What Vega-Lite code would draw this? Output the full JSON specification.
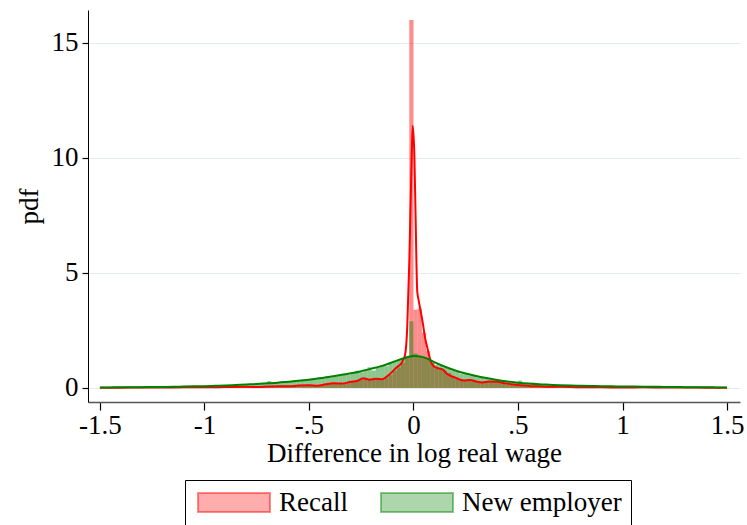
{
  "$schema": "https://vega.github.io/schema/vega-lite/v6.json",
  "width": 652,
  "height": 392,
  "autosize": "none",
  "padding": {"left": 88, "top": 10, "right": 7, "bottom": 123},
  "background": "white",
  "datasets": {
    "hist": [
      {"b":-1.50,"e":-1.48,"Recall":0.01,"New employer":0.02},{"b":-1.48,"e":-1.46,"Recall":0.01,"New employer":0.03},{"b":-1.46,"e":-1.44,"Recall":0.01,"New employer":0.02},{"b":-1.44,"e":-1.42,"Recall":0.02,"New employer":0.03},{"b":-1.42,"e":-1.40,"Recall":0.01,"New employer":0.03},
      {"b":-1.40,"e":-1.38,"Recall":0.01,"New employer":0.02},{"b":-1.38,"e":-1.36,"Recall":0.01,"New employer":0.04},{"b":-1.36,"e":-1.34,"Recall":0.02,"New employer":0.03},{"b":-1.34,"e":-1.32,"Recall":0.01,"New employer":0.03},{"b":-1.32,"e":-1.30,"Recall":0.02,"New employer":0.04},
      {"b":-1.30,"e":-1.28,"Recall":0.02,"New employer":0.03},{"b":-1.28,"e":-1.26,"Recall":0.01,"New employer":0.04},{"b":-1.26,"e":-1.24,"Recall":0.02,"New employer":0.05},{"b":-1.24,"e":-1.22,"Recall":0.02,"New employer":0.04},{"b":-1.22,"e":-1.20,"Recall":0.03,"New employer":0.05},
      {"b":-1.20,"e":-1.18,"Recall":0.02,"New employer":0.04},{"b":-1.18,"e":-1.16,"Recall":0.02,"New employer":0.06},{"b":-1.16,"e":-1.14,"Recall":0.03,"New employer":0.05},{"b":-1.14,"e":-1.12,"Recall":0.02,"New employer":0.06},{"b":-1.12,"e":-1.10,"Recall":0.03,"New employer":0.05},
      {"b":-1.10,"e":-1.08,"Recall":0.03,"New employer":0.07},{"b":-1.08,"e":-1.06,"Recall":0.02,"New employer":0.06},{"b":-1.06,"e":-1.04,"Recall":0.04,"New employer":0.08},{"b":-1.04,"e":-1.02,"Recall":0.03,"New employer":0.07},{"b":-1.02,"e":-1.00,"Recall":0.03,"New employer":0.08},
      {"b":-1.00,"e":-0.98,"Recall":0.04,"New employer":0.09},{"b":-0.98,"e":-0.96,"Recall":0.03,"New employer":0.08},{"b":-0.96,"e":-0.94,"Recall":0.04,"New employer":0.10},{"b":-0.94,"e":-0.92,"Recall":0.03,"New employer":0.09},{"b":-0.92,"e":-0.90,"Recall":0.05,"New employer":0.11},
      {"b":-0.90,"e":-0.88,"Recall":0.04,"New employer":0.12},{"b":-0.88,"e":-0.86,"Recall":0.04,"New employer":0.11},{"b":-0.86,"e":-0.84,"Recall":0.05,"New employer":0.14},{"b":-0.84,"e":-0.82,"Recall":0.04,"New employer":0.13},{"b":-0.82,"e":-0.80,"Recall":0.06,"New employer":0.15},
      {"b":-0.80,"e":-0.78,"Recall":0.05,"New employer":0.16},{"b":-0.78,"e":-0.76,"Recall":0.04,"New employer":0.15},{"b":-0.76,"e":-0.74,"Recall":0.06,"New employer":0.19},{"b":-0.74,"e":-0.72,"Recall":0.05,"New employer":0.17},{"b":-0.72,"e":-0.70,"Recall":0.07,"New employer":0.22},
      {"b":-0.70,"e":-0.68,"Recall":0.06,"New employer":0.30},{"b":-0.68,"e":-0.66,"Recall":0.08,"New employer":0.21},{"b":-0.66,"e":-0.64,"Recall":0.07,"New employer":0.25},{"b":-0.64,"e":-0.62,"Recall":0.09,"New employer":0.24},{"b":-0.62,"e":-0.60,"Recall":0.08,"New employer":0.28},
      {"b":-0.60,"e":-0.58,"Recall":0.07,"New employer":0.26},{"b":-0.58,"e":-0.56,"Recall":0.10,"New employer":0.32},{"b":-0.56,"e":-0.54,"Recall":0.09,"New employer":0.30},{"b":-0.54,"e":-0.52,"Recall":0.12,"New employer":0.36},{"b":-0.52,"e":-0.50,"Recall":0.11,"New employer":0.33},
      {"b":-0.50,"e":-0.48,"Recall":0.12,"New employer":0.40},{"b":-0.48,"e":-0.46,"Recall":0.10,"New employer":0.38},{"b":-0.46,"e":-0.44,"Recall":0.11,"New employer":0.45},{"b":-0.44,"e":-0.42,"Recall":0.14,"New employer":0.42},{"b":-0.42,"e":-0.40,"Recall":0.17,"New employer":0.50},
      {"b":-0.40,"e":-0.38,"Recall":0.20,"New employer":0.47},{"b":-0.38,"e":-0.36,"Recall":0.19,"New employer":0.55},{"b":-0.36,"e":-0.34,"Recall":0.18,"New employer":0.52},{"b":-0.34,"e":-0.32,"Recall":0.22,"New employer":0.62},{"b":-0.32,"e":-0.30,"Recall":0.25,"New employer":0.58},
      {"b":-0.30,"e":-0.28,"Recall":0.27,"New employer":0.66},{"b":-0.28,"e":-0.26,"Recall":0.31,"New employer":0.75},{"b":-0.26,"e":-0.24,"Recall":0.40,"New employer":0.68},{"b":-0.24,"e":-0.22,"Recall":0.42,"New employer":0.80},{"b":-0.22,"e":-0.20,"Recall":0.36,"New employer":0.90},
      {"b":-0.20,"e":-0.18,"Recall":0.40,"New employer":0.76},{"b":-0.18,"e":-0.16,"Recall":0.41,"New employer":0.88},{"b":-0.16,"e":-0.14,"Recall":0.36,"New employer":1.00},{"b":-0.14,"e":-0.12,"Recall":0.45,"New employer":0.95},{"b":-0.12,"e":-0.10,"Recall":0.58,"New employer":1.05},
      {"b":-0.10,"e":-0.08,"Recall":0.75,"New employer":1.15},{"b":-0.08,"e":-0.06,"Recall":0.90,"New employer":1.20},{"b":-0.06,"e":-0.04,"Recall":1.10,"New employer":1.25},{"b":-0.04,"e":-0.02,"Recall":1.40,"New employer":1.30},{"b":-0.02,"e":0.00,"Recall":16.0,"New employer":2.90},
      {"b":0.00,"e":0.02,"Recall":3.40,"New employer":1.50},{"b":0.02,"e":0.04,"Recall":3.45,"New employer":1.40},{"b":0.04,"e":0.06,"Recall":2.40,"New employer":1.30},{"b":0.06,"e":0.08,"Recall":1.60,"New employer":1.25},{"b":0.08,"e":0.10,"Recall":1.10,"New employer":1.10},
      {"b":0.10,"e":0.12,"Recall":0.90,"New employer":1.00},{"b":0.12,"e":0.14,"Recall":0.85,"New employer":0.95},{"b":0.14,"e":0.16,"Recall":0.75,"New employer":0.88},{"b":0.16,"e":0.18,"Recall":0.65,"New employer":0.82},{"b":0.18,"e":0.20,"Recall":0.52,"New employer":0.76},
      {"b":0.20,"e":0.22,"Recall":0.45,"New employer":0.72},{"b":0.22,"e":0.24,"Recall":0.38,"New employer":0.62},{"b":0.24,"e":0.26,"Recall":0.35,"New employer":0.60},{"b":0.26,"e":0.28,"Recall":0.34,"New employer":0.55},{"b":0.28,"e":0.30,"Recall":0.33,"New employer":0.52},
      {"b":0.30,"e":0.32,"Recall":0.27,"New employer":0.46},{"b":0.32,"e":0.34,"Recall":0.25,"New employer":0.44},{"b":0.34,"e":0.36,"Recall":0.28,"New employer":0.40},{"b":0.36,"e":0.38,"Recall":0.26,"New employer":0.38},{"b":0.38,"e":0.40,"Recall":0.27,"New employer":0.36},
      {"b":0.40,"e":0.42,"Recall":0.24,"New employer":0.33},{"b":0.42,"e":0.44,"Recall":0.22,"New employer":0.28},{"b":0.44,"e":0.46,"Recall":0.18,"New employer":0.28},{"b":0.46,"e":0.48,"Recall":0.16,"New employer":0.24},{"b":0.48,"e":0.50,"Recall":0.14,"New employer":0.22},
      {"b":0.50,"e":0.52,"Recall":0.12,"New employer":0.32},{"b":0.52,"e":0.54,"Recall":0.11,"New employer":0.20},{"b":0.54,"e":0.56,"Recall":0.09,"New employer":0.20},{"b":0.56,"e":0.58,"Recall":0.08,"New employer":0.18},{"b":0.58,"e":0.60,"Recall":0.08,"New employer":0.17},
      {"b":0.60,"e":0.62,"Recall":0.06,"New employer":0.16},{"b":0.62,"e":0.64,"Recall":0.07,"New employer":0.15},{"b":0.64,"e":0.66,"Recall":0.05,"New employer":0.14},{"b":0.66,"e":0.68,"Recall":0.06,"New employer":0.13},{"b":0.68,"e":0.70,"Recall":0.05,"New employer":0.13},
      {"b":0.70,"e":0.72,"Recall":0.08,"New employer":0.12},{"b":0.72,"e":0.74,"Recall":0.04,"New employer":0.11},{"b":0.74,"e":0.76,"Recall":0.05,"New employer":0.11},{"b":0.76,"e":0.78,"Recall":0.04,"New employer":0.10},{"b":0.78,"e":0.80,"Recall":0.03,"New employer":0.10},
      {"b":0.80,"e":0.82,"Recall":0.04,"New employer":0.09},{"b":0.82,"e":0.84,"Recall":0.03,"New employer":0.09},{"b":0.84,"e":0.86,"Recall":0.04,"New employer":0.08},{"b":0.86,"e":0.88,"Recall":0.03,"New employer":0.08},{"b":0.88,"e":0.90,"Recall":0.03,"New employer":0.07},
      {"b":0.90,"e":0.92,"Recall":0.02,"New employer":0.08},{"b":0.92,"e":0.94,"Recall":0.03,"New employer":0.07},{"b":0.94,"e":0.96,"Recall":0.02,"New employer":0.06},{"b":0.96,"e":0.98,"Recall":0.03,"New employer":0.07},{"b":0.98,"e":1.00,"Recall":0.02,"New employer":0.06},
      {"b":1.00,"e":1.02,"Recall":0.03,"New employer":0.06},{"b":1.02,"e":1.04,"Recall":0.02,"New employer":0.05},{"b":1.04,"e":1.06,"Recall":0.03,"New employer":0.06},{"b":1.06,"e":1.08,"Recall":0.02,"New employer":0.05},{"b":1.08,"e":1.10,"Recall":0.02,"New employer":0.05},
      {"b":1.10,"e":1.12,"Recall":0.03,"New employer":0.04},{"b":1.12,"e":1.14,"Recall":0.02,"New employer":0.05},{"b":1.14,"e":1.16,"Recall":0.02,"New employer":0.04},{"b":1.16,"e":1.18,"Recall":0.02,"New employer":0.04},{"b":1.18,"e":1.20,"Recall":0.01,"New employer":0.05},
      {"b":1.20,"e":1.22,"Recall":0.02,"New employer":0.04},{"b":1.22,"e":1.24,"Recall":0.02,"New employer":0.04},{"b":1.24,"e":1.26,"Recall":0.01,"New employer":0.03},{"b":1.26,"e":1.28,"Recall":0.02,"New employer":0.04},{"b":1.28,"e":1.30,"Recall":0.01,"New employer":0.03},
      {"b":1.30,"e":1.32,"Recall":0.02,"New employer":0.04},{"b":1.32,"e":1.34,"Recall":0.01,"New employer":0.03},{"b":1.34,"e":1.36,"Recall":0.02,"New employer":0.03},{"b":1.36,"e":1.38,"Recall":0.01,"New employer":0.03},{"b":1.38,"e":1.40,"Recall":0.01,"New employer":0.02},
      {"b":1.40,"e":1.42,"Recall":0.01,"New employer":0.03},{"b":1.42,"e":1.44,"Recall":0.01,"New employer":0.02},{"b":1.44,"e":1.46,"Recall":0.01,"New employer":0.03},{"b":1.46,"e":1.48,"Recall":0.01,"New employer":0.02},{"b":1.48,"e":1.50,"Recall":0.01,"New employer":0.02}
    ],
    "dens": [
      {"s":"Recall","x":-1.50,"y":0.01},{"s":"Recall","x":-1.40,"y":0.01},{"s":"Recall","x":-1.30,"y":0.02},{"s":"Recall","x":-1.20,"y":0.02},{"s":"Recall","x":-1.10,"y":0.03},
      {"s":"Recall","x":-1.00,"y":0.03},{"s":"Recall","x":-0.90,"y":0.04},{"s":"Recall","x":-0.80,"y":0.05},{"s":"Recall","x":-0.75,"y":0.04},{"s":"Recall","x":-0.70,"y":0.06},
      {"s":"Recall","x":-0.65,"y":0.08},{"s":"Recall","x":-0.60,"y":0.07},{"s":"Recall","x":-0.55,"y":0.11},{"s":"Recall","x":-0.50,"y":0.12},{"s":"Recall","x":-0.46,"y":0.10},
      {"s":"Recall","x":-0.42,"y":0.16},{"s":"Recall","x":-0.38,"y":0.20},{"s":"Recall","x":-0.34,"y":0.19},{"s":"Recall","x":-0.30,"y":0.27},{"s":"Recall","x":-0.27,"y":0.30},
      {"s":"Recall","x":-0.24,"y":0.42},{"s":"Recall","x":-0.21,"y":0.36},{"s":"Recall","x":-0.18,"y":0.40},{"s":"Recall","x":-0.15,"y":0.38},{"s":"Recall","x":-0.12,"y":0.55},
      {"s":"Recall","x":-0.10,"y":0.72},{"s":"Recall","x":-0.08,"y":0.90},{"s":"Recall","x":-0.06,"y":1.05},{"s":"Recall","x":-0.05,"y":1.20},{"s":"Recall","x":-0.04,"y":1.45},
      {"s":"Recall","x":-0.03,"y":2.6},{"s":"Recall","x":-0.02,"y":5.5},{"s":"Recall","x":-0.01,"y":9.5},{"s":"Recall","x":-0.004,"y":11.4},{"s":"Recall","x":0.004,"y":10.2},
      {"s":"Recall","x":0.01,"y":7.5},{"s":"Recall","x":0.018,"y":4.2},{"s":"Recall","x":0.025,"y":3.8},{"s":"Recall","x":0.035,"y":3.3},{"s":"Recall","x":0.045,"y":2.8},
      {"s":"Recall","x":0.055,"y":2.2},{"s":"Recall","x":0.065,"y":1.8},{"s":"Recall","x":0.075,"y":1.4},{"s":"Recall","x":0.085,"y":1.1},{"s":"Recall","x":0.10,"y":0.92},
      {"s":"Recall","x":0.12,"y":0.85},{"s":"Recall","x":0.14,"y":0.80},{"s":"Recall","x":0.16,"y":0.62},{"s":"Recall","x":0.18,"y":0.52},{"s":"Recall","x":0.20,"y":0.45},
      {"s":"Recall","x":0.22,"y":0.37},{"s":"Recall","x":0.24,"y":0.33},{"s":"Recall","x":0.27,"y":0.35},{"s":"Recall","x":0.30,"y":0.28},{"s":"Recall","x":0.33,"y":0.24},
      {"s":"Recall","x":0.36,"y":0.28},{"s":"Recall","x":0.40,"y":0.27},{"s":"Recall","x":0.44,"y":0.20},{"s":"Recall","x":0.48,"y":0.15},{"s":"Recall","x":0.52,"y":0.12},
      {"s":"Recall","x":0.56,"y":0.08},{"s":"Recall","x":0.60,"y":0.07},{"s":"Recall","x":0.65,"y":0.05},{"s":"Recall","x":0.70,"y":0.06},{"s":"Recall","x":0.75,"y":0.04},
      {"s":"Recall","x":0.80,"y":0.03},{"s":"Recall","x":0.90,"y":0.03},{"s":"Recall","x":1.00,"y":0.02},{"s":"Recall","x":1.10,"y":0.03},{"s":"Recall","x":1.20,"y":0.02},
      {"s":"Recall","x":1.30,"y":0.02},{"s":"Recall","x":1.40,"y":0.01},{"s":"Recall","x":1.50,"y":0.01},
      {"s":"New employer","x":-1.50,"y":0.02},{"s":"New employer","x":-1.45,"y":0.025},{"s":"New employer","x":-1.40,"y":0.03},{"s":"New employer","x":-1.35,"y":0.03},{"s":"New employer","x":-1.30,"y":0.035},
      {"s":"New employer","x":-1.25,"y":0.04},{"s":"New employer","x":-1.20,"y":0.045},{"s":"New employer","x":-1.15,"y":0.05},{"s":"New employer","x":-1.10,"y":0.06},{"s":"New employer","x":-1.05,"y":0.07},
      {"s":"New employer","x":-1.00,"y":0.08},{"s":"New employer","x":-0.95,"y":0.095},{"s":"New employer","x":-0.90,"y":0.11},{"s":"New employer","x":-0.85,"y":0.13},{"s":"New employer","x":-0.80,"y":0.15},
      {"s":"New employer","x":-0.75,"y":0.17},{"s":"New employer","x":-0.70,"y":0.20},{"s":"New employer","x":-0.65,"y":0.23},{"s":"New employer","x":-0.60,"y":0.27},{"s":"New employer","x":-0.55,"y":0.31},
      {"s":"New employer","x":-0.50,"y":0.36},{"s":"New employer","x":-0.45,"y":0.42},{"s":"New employer","x":-0.40,"y":0.49},{"s":"New employer","x":-0.35,"y":0.56},{"s":"New employer","x":-0.30,"y":0.64},
      {"s":"New employer","x":-0.25,"y":0.73},{"s":"New employer","x":-0.20,"y":0.84},{"s":"New employer","x":-0.15,"y":0.96},{"s":"New employer","x":-0.10,"y":1.12},{"s":"New employer","x":-0.05,"y":1.28},
      {"s":"New employer","x":0.00,"y":1.39},{"s":"New employer","x":0.05,"y":1.33},{"s":"New employer","x":0.10,"y":1.12},{"s":"New employer","x":0.15,"y":0.92},{"s":"New employer","x":0.20,"y":0.76},
      {"s":"New employer","x":0.25,"y":0.63},{"s":"New employer","x":0.30,"y":0.52},{"s":"New employer","x":0.35,"y":0.43},{"s":"New employer","x":0.40,"y":0.35},{"s":"New employer","x":0.45,"y":0.28},
      {"s":"New employer","x":0.50,"y":0.23},{"s":"New employer","x":0.55,"y":0.19},{"s":"New employer","x":0.60,"y":0.16},{"s":"New employer","x":0.65,"y":0.14},{"s":"New employer","x":0.70,"y":0.12},
      {"s":"New employer","x":0.75,"y":0.105},{"s":"New employer","x":0.80,"y":0.095},{"s":"New employer","x":0.85,"y":0.085},{"s":"New employer","x":0.90,"y":0.075},{"s":"New employer","x":0.95,"y":0.07},
      {"s":"New employer","x":1.00,"y":0.065},{"s":"New employer","x":1.05,"y":0.06},{"s":"New employer","x":1.10,"y":0.055},{"s":"New employer","x":1.15,"y":0.05},{"s":"New employer","x":1.20,"y":0.045},
      {"s":"New employer","x":1.25,"y":0.04},{"s":"New employer","x":1.30,"y":0.035},{"s":"New employer","x":1.35,"y":0.03},{"s":"New employer","x":1.40,"y":0.03},{"s":"New employer","x":1.45,"y":0.025},
      {"s":"New employer","x":1.50,"y":0.02}
    ]
  },
  "layer": [
    {
      "data": {"name": "hist"},
      "transform": [{"fold": ["Recall", "New employer"], "as": ["s", "d"]}],
      "mark": {"type": "bar", "fillOpacity": 0.45, "strokeWidth": 0},
      "encoding": {
        "x": {"field": "b", "type": "quantitative",
              "scale": {"domain": [-1.557, 1.562], "nice": false, "zero": false},
              "axis": {"values": [-1.5, -1, -0.5, 0, 0.5, 1, 1.5],
                       "labelExpr": "datum.value == 0 ? '0' : replace(toString(datum.value), '0.', '.')",
                       "title": "Difference in log real wage", "grid": false,
                       "domainColor": "#555555", "domainWidth": 1.5,
                       "tickColor": "#000000", "tickSize": 8, "tickWidth": 1.2,
                       "labelPadding": 2, "titlePadding": 2}},
        "x2": {"field": "e"},
        "y": {"field": "d", "type": "quantitative", "stack": null,
              "scale": {"domain": [-0.61, 16.43], "nice": false, "zero": false},
              "axis": {"values": [0, 5, 10, 15], "title": "pdf", "grid": true,
                       "gridColor": "#e4ebed", "gridWidth": 1.2,
                       "domainColor": "#000000", "domainWidth": 1,
                       "tickColor": "#000000", "tickSize": 6, "tickWidth": 1.2,
                       "labelPadding": 4, "titlePadding": 8}},
        "y2": {"datum": 0},
        "fill": {"field": "s", "type": "nominal",
                 "scale": {"domain": ["Recall", "New employer"], "range": ["#ff0000", "#008000"]},
                 "legend": {"orient": "none", "legendX": 97, "legendY": 470, "direction": "horizontal",
                            "title": null, "strokeColor": "#000000", "padding": 9,
                            "symbolType": "M-1,-1H6.58V1H-1Z", "symbolSize": 361,
                            "labelOffset": 58, "columnPadding": 29,
                            "encode": {"symbols": {"update": {
                              "fillOpacity": {"value": 0.32},
                              "stroke": {"scale": "fill", "field": "value"},
                              "strokeOpacity": {"value": 0.45},
                              "strokeWidth": {"value": 2},
                              "opacity": {"value": 1}}}}}}
      }
    },
    {
      "data": {"name": "dens"},
      "mark": {"type": "line", "strokeWidth": 2, "interpolate": "monotone"},
      "encoding": {
        "x": {"field": "x", "type": "quantitative"},
        "y": {"field": "y", "type": "quantitative"},
        "color": {"field": "s", "type": "nominal",
                  "scale": {"domain": ["Recall", "New employer"], "range": ["#ff0000", "#008000"]},
                  "legend": null}
      }
    }
  ],
  "config": {
    "view": {"stroke": null},
    "font": "Liberation Serif",
    "axis": {"labelFont": "Liberation Serif", "titleFont": "Liberation Serif",
             "labelFontSize": 27, "titleFontSize": 27, "titleFontWeight": "normal",
             "labelColor": "#000000", "titleColor": "#000000"},
    "legend": {"labelFont": "Liberation Serif", "labelFontSize": 27, "labelColor": "#000000"}
  }
}
